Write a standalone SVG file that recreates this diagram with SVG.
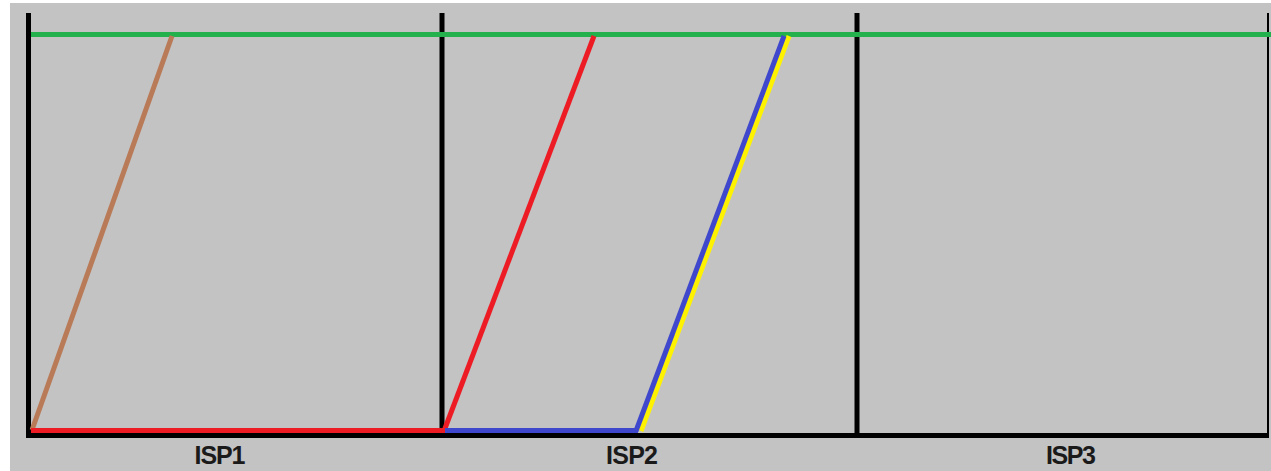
<svg xmlns="http://www.w3.org/2000/svg" width="1271" height="471" viewBox="0 0 1271 471">
<style>
.bk{stroke:#000;stroke-width:5;fill:none}
.ln{stroke-width:5;fill:none;stroke-linecap:butt}
.lbl{font-family:"Liberation Sans",Arial,sans-serif;font-weight:bold;font-size:25px;fill:#1a1a1a;text-anchor:middle}
</style>
<rect x="10" y="3" width="1261" height="468" fill="#c3c3c3"/>
<g id="frame">
<line class="bk" x1="28.5" y1="13" x2="28.5" y2="438"/>
<line class="bk" x1="442" y1="13" x2="442" y2="436"/>
<line class="bk" x1="857" y1="13" x2="857" y2="436"/>
<line x1="1268" y1="13" x2="1268" y2="436" stroke="#000" stroke-width="2"/>
<line class="bk" x1="26" y1="435.5" x2="1269" y2="435.5"/>
</g>
<g id="connectors">
<line class="ln" stroke="#22b14c" x1="31" y1="34.5" x2="1271" y2="34.5"/>
<line class="ln" stroke="#b97a57" x1="32" y1="430" x2="172" y2="36"/>
<line class="ln" stroke="#ed1c24" x1="31" y1="430.5" x2="445" y2="430.5"/>
<line class="ln" stroke="#ed1c24" x1="444" y1="431" x2="594" y2="36"/>
<line class="ln" stroke="#fff200" x1="641" y1="431" x2="789" y2="36"/>
<line class="ln" stroke="#3f48cc" x1="445" y1="430.5" x2="638" y2="430.5"/>
<line class="ln" stroke="#3f48cc" x1="636" y1="431" x2="784" y2="36"/>
</g>
<g id="labels">
<text class="lbl" x="220" y="464" textLength="51">ISP1</text>
<text class="lbl" x="632" y="464" textLength="52">ISP2</text>
<text class="lbl" x="1071" y="464" textLength="50">ISP3</text>
</g>
</svg>
